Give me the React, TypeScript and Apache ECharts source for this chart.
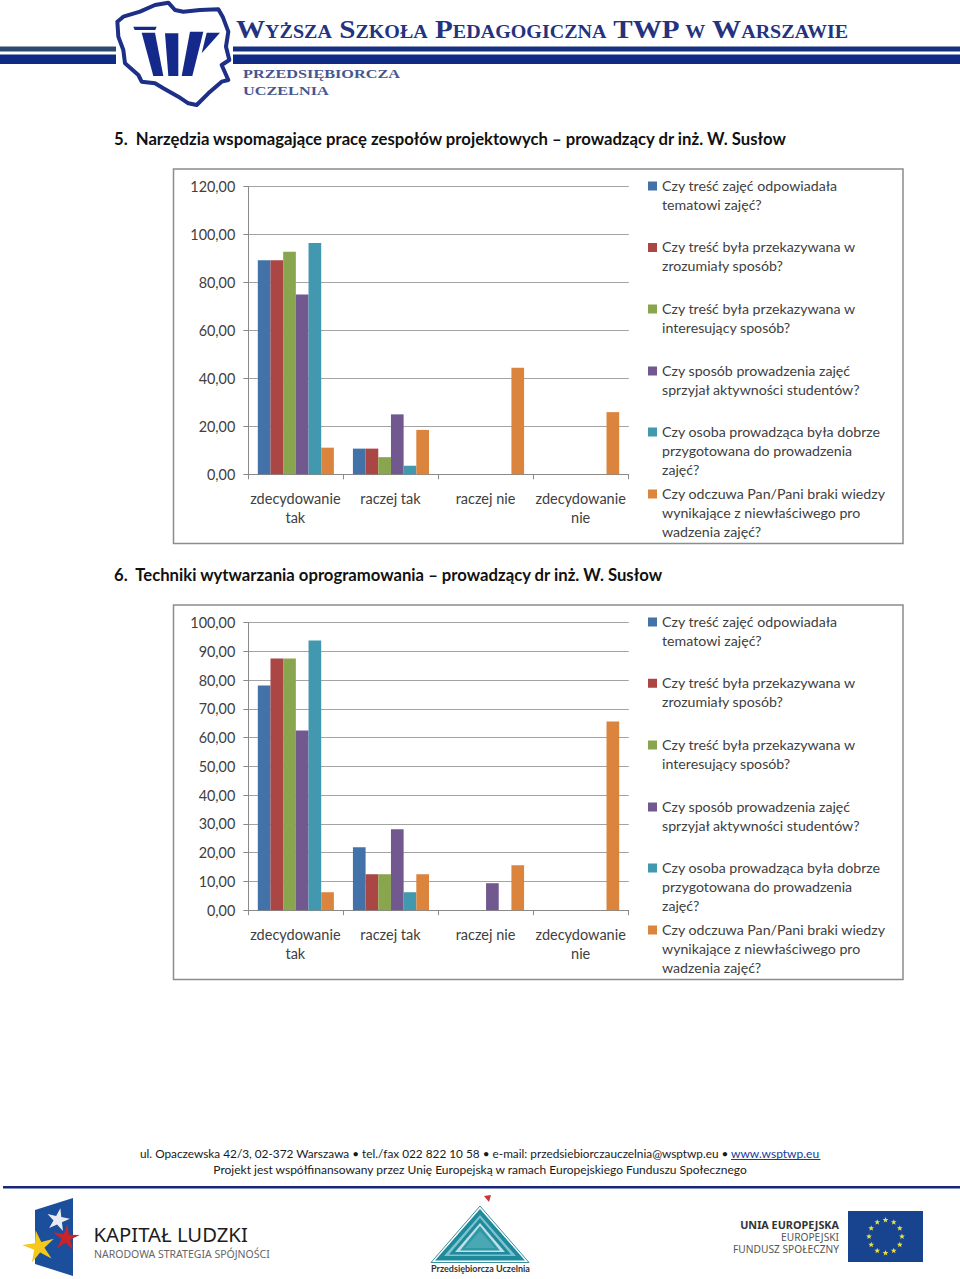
import React, { useEffect, useRef } from "react";
import * as echarts from "echarts";

const categories = ["zdecydowanie\ntak", "raczej tak", "raczej nie", "zdecydowanie\nnie"];
const seriesNames = [
  "Czy treść zajęć odpowiadała\ntematowi zajęć?",
  "Czy treść była przekazywana w\nzrozumiały sposób?",
  "Czy treść była przekazywana w\ninteresujący sposób?",
  "Czy sposób prowadzenia zajęć\nsprzyjał aktywności studentów?",
  "Czy osoba prowadząca była dobrze\nprzygotowana do prowadzenia\nzajęć?",
  "Czy odczuwa Pan/Pani braki wiedzy\nwynikające z niewłaściwego pro\nwadzenia zajęć?",
];
const seriesColors = ["#4272a8", "#aa4643", "#89a54e", "#71588f", "#4198af", "#db843d"];

const chart1S1 = [89.29, 10.71, 0, 0];
const chart1S2 = [89.29, 10.71, 0, 0];
const chart1S3 = [92.86, 7.14, 0, 0];
const chart1S4 = [75, 25, 0, 0];
const chart1S5 = [96.43, 3.57, 0, 0];
const chart1S6 = [11.11, 18.52, 44.44, 25.93];

const chart2S1 = [78.13, 21.88, 0, 0];
const chart2S2 = [87.5, 12.5, 0, 0];
const chart2S3 = [87.5, 12.5, 0, 0];
const chart2S4 = [62.5, 28.13, 9.38, 0];
const chart2S5 = [93.75, 6.25, 0, 0];
const chart2S6 = [6.25, 12.5, 15.63, 65.63];

const chart1Data = [chart1S1, chart1S2, chart1S3, chart1S4, chart1S5, chart1S6];
const chart2Data = [chart2S1, chart2S2, chart2S3, chart2S4, chart2S5, chart2S6];

const title1 = "5.  Narzędzia wspomagające pracę zespołów projektowych – prowadzący dr inż. W. Susłow";
const title2 = "6.  Techniki wytwarzania oprogramowania – prowadzący dr inż. W. Susłow";
const footer1 = "ul. Opaczewska 42/3, 02-372 Warszawa • tel./fax 022 822 10 58 • e-mail: przedsiebiorczauczelnia@wsptwp.eu •";
const footerLink = "www.wsptwp.eu";
const footer2 = "Projekt jest współfinansowany przez Unię Europejską w ramach Europejskiego Funduszu Społecznego";

const UI_FONT = "Lato";
const TEXT = "#404040";
const NAVY = "#0f2a85";

function star(cx: number, cy: number, r: number, inner: number, fill: string, rot = 0) {
  const points: number[][] = [];
  for (let i = 0; i < 10; i++) {
    const a = rot - Math.PI / 2 + (i * Math.PI) / 5;
    const rr = i % 2 === 0 ? r : inner;
    points.push([cx + rr * Math.cos(a), cy + rr * Math.sin(a)]);
  }
  return { type: "polygon", silent: true, shape: { points }, style: { fill } };
}
function rect(x: number, y: number, w: number, h: number, fill: string) {
  return { type: "rect", silent: true, shape: { x, y, width: w, height: h }, style: { fill } };
}
function txt(x: number, y: number, text: string, size: number, fill: string, extra: any = {}, elExtra: any = {}) {
  return {
    type: "text",
    silent: true,
    x,
    y,
    ...elExtra,
    style: {
      text,
      fill,
      fontSize: size,
      fontFamily: UI_FONT,
      textAlign: "left",
      textVerticalAlign: "middle",
      ...extra,
    },
  };
}
// maps a point of the header crop to the page
const hp = (pts: number[][]) => pts.map(([x, y]) => [100 + x / 3, y / 3]);

function decorations(): any[] {
  const out: any[] = [];
  // header
  out.push(rect(0, 46.5, 116, 5, "#2c4a6e"));
  out.push(rect(0, 54.5, 116, 9.5, NAVY));
  out.push(rect(233, 46.5, 727, 5, "#17307f"));
  out.push(rect(233, 54.5, 727, 9.5, NAVY));
  out.push({
    type: "polygon",
    silent: true,
    shape: {
      points: hp([
        [52, 65], [70, 50], [120, 35], [165, 15], [205, 8], [225, 30], [250, 35], [300, 30], [355, 28],
        [368, 50], [385, 95], [378, 140], [388, 180], [365, 195], [385, 240], [365, 245], [325, 280],
        [290, 315], [265, 310], [235, 290], [190, 265], [165, 250], [125, 245], [115, 225], [75, 190],
        [70, 150], [55, 110],
      ]),
    },
    style: { fill: "#ffffff", stroke: "#1d2f86", lineWidth: 4, lineJoin: "round" },
  });
  [
    [[100, 80], [170, 80], [166, 90], [104, 90]],
    [[125, 98], [165, 98], [190, 228], [160, 228]],
    [[195, 100], [235, 100], [235, 228], [205, 228]],
    [[270, 95], [310, 95], [277, 228], [245, 228]],
    [[320, 98], [360, 98], [305, 160]],
  ].forEach((p) => out.push({ type: "polygon", silent: true, shape: { points: hp(p) }, style: { fill: "#15298a" } }));
  out.push({
    type: "text",
    silent: true,
    x: 236,
    y: 29,
    scaleX: 1.12,
    style: {
      text: "Wyższa Szkoła Pedagogiczna TWP w Warszawie",
      fill: "#25337f",
      font: 'small-caps 700 26px "Liberation Serif"',
      textAlign: "left",
      textVerticalAlign: "middle",
    },
  });
  out.push(txt(243, 74, "PRZEDSIĘBIORCZA", 12.5, "#46578f", { fontFamily: "Liberation Serif", fontWeight: 700 }, { scaleX: 1.3 }));
  out.push(txt(243, 91, "UCZELNIA", 12.5, "#46578f", { fontFamily: "Liberation Serif", fontWeight: 700 }, { scaleX: 1.3 }));

  // section titles and frames
  out.push(txt(114, 139, title1, 16.7, "#111111", { fontWeight: 700 }));
  out.push(txt(114, 575, title2, 16.7, "#111111", { fontWeight: 700 }));
  [169, 605].forEach((y) =>
    out.push({
      type: "rect",
      silent: true,
      shape: { x: 173.5, y, width: 729.5, height: 374.5 },
      style: { fill: "none", stroke: "#8c8c8c", lineWidth: 1.5 },
    })
  );

  // footer
  out.push(txt(140, 1153, footer1, 11.8, "#1a1a1a"));
  out.push(txt(731, 1153, footerLink, 12, "#1a3a9a"));
  out.push(rect(731, 1159, 89.5, 1, "#1a3a9a"));
  out.push(txt(480, 1169, footer2, 12, "#1a1a1a", { textAlign: "center" }));
  out.push(rect(3, 1186, 957, 2.5, "#17277a"));

  // Kapitał Ludzki
  out.push({ type: "polygon", silent: true, shape: { points: [[35, 1210], [73, 1198], [73, 1276], [35, 1264]] }, style: { fill: "#1b4f9c" } });
  out.push(star(58, 1220, 12, 4.5, "#e8ecf2", 0.2));
  out.push(star(66, 1238, 14, 4.5, "#c8242c", 0.1));
  out.push(star(39, 1247, 17, 5.5, "#f4c81c", -0.2));
  out.push(txt(93.5, 1233.5, "KAPITAŁ LUDZKI", 20.3, "#1d1d1b", { fontFamily: "Noto Sans" }));
  out.push(txt(94, 1254, "NARODOWA STRATEGIA SPÓJNOŚCI", 10.5, "#666666", { fontFamily: "Noto Sans" }));

  // Przedsiębiorcza Uczelnia
  out.push({ type: "polygon", silent: true, shape: { points: [[484, 1196], [491, 1195], [489, 1202]] }, style: { fill: "#cc3333" } });
  [
    { a: 1206, l: 431, r: 529, b: 1262.5, fill: "#ffffff", stroke: "#3a8f9c" },
    { a: 1209, l: 435, r: 525, b: 1260.5, fill: "#1e8a9c" },
    { a: 1215, l: 444, r: 516, b: 1256, fill: "#7fc3cc" },
    { a: 1218, l: 449, r: 511, b: 1254.5, fill: "#1e8a9c" },
    { a: 1223, l: 455, r: 505, b: 1252, fill: "#bfe0e4" },
    { a: 1226, l: 460, r: 500, b: 1250.5, fill: "#2f97a6" },
    { a: 1231, l: 465, r: 495, b: 1248, fill: "#4aa7b4" },
  ].forEach((t) =>
    out.push({
      type: "polygon",
      silent: true,
      shape: { points: [[(t.l + t.r) / 2, t.a], [t.l, t.b], [t.r, t.b]] },
      style: { fill: t.fill, stroke: t.stroke, lineWidth: t.stroke ? 1 : 0 },
    })
  );
  out.push(txt(480.5, 1268, "Przedsiębiorcza Uczelnia", 9, "#333333", { textAlign: "center", fontWeight: 700 }));

  // EU
  out.push(txt(839, 1224, "UNIA EUROPEJSKA", 10.8, "#333333", { textAlign: "right", fontFamily: "Noto Sans", fontWeight: 700 }));
  out.push(txt(839, 1236.5, "EUROPEJSKI", 10.2, "#555555", { textAlign: "right", fontFamily: "Noto Sans" }));
  out.push(txt(839, 1249, "FUNDUSZ SPOŁECZNY", 10.2, "#555555", { textAlign: "right", fontFamily: "Noto Sans" }));
  out.push(rect(848, 1211, 75, 51, "#17438f"));
  for (let i = 0; i < 12; i++) {
    const a = (i * Math.PI) / 6;
    out.push(star(885.5 + 16.5 * Math.sin(a), 1236.5 - 16.5 * Math.cos(a), 3, 1.3, "#e6e04a"));
  }
  return out;
}

const fmt = (v: number) => v.toFixed(2).replace(".", ",");

function buildChart(idx: number, top: number, max: number, interval: number, data: number[][]) {
  const grid = { left: 248.3, top, width: 380.4, height: 287.7, containLabel: false };
  const axisColor = "#8a8a8a";
  const xAxis = {
    type: "category",
    gridIndex: idx,
    data: categories,
    axisLine: { lineStyle: { color: axisColor, width: 1 } },
    axisTick: { show: true, length: 5, lineStyle: { color: axisColor }, alignWithLabel: false },
    axisLabel: { interval: 0, margin: 15, fontFamily: UI_FONT, fontSize: 14.5, color: TEXT, lineHeight: 19, padding: [0, 1, 0, 0] },
  };
  const yAxis = {
    type: "value",
    gridIndex: idx,
    min: 0,
    max,
    interval,
    axisLine: { show: true, lineStyle: { color: axisColor, width: 1 } },
    axisTick: { show: true, length: 5, lineStyle: { color: axisColor } },
    axisLabel: { margin: 13, fontFamily: UI_FONT, fontSize: 14.4, color: TEXT, formatter: fmt, padding: [0, 0, 2, 0] },
    splitLine: { show: true, lineStyle: { color: "#a3a3a3", width: 1 } },
  };
  const series = seriesNames.map((name, i) => ({
    type: "bar",
    name,
    xAxisIndex: idx,
    yAxisIndex: idx,
    data: data[i],
    barCategoryGap: "20%",
    barGap: "0%",
    itemStyle: { color: seriesColors[i] },
    silent: true,
  }));
  const offsets = [0, 61.3, 123, 185, 246, 308];
  const legend = seriesNames.map((name, i) => {
    const lines = name.split("\n").length;
    const h = lines * 19;
    return {
      left: 648,
      top: top - 11 + offsets[i],
      padding: 0,
      orient: "vertical",
      selectedMode: false,
      data: [{ name, icon: `path://M0,6H9V15H0Z M0,0L0.01,0Z M0,${h}L0.01,${h}Z` }],
      itemWidth: 9,
      itemHeight: h,
      textStyle: { fontFamily: UI_FONT, fontSize: 14.2, lineHeight: 19, color: TEXT, padding: [0, 0, 0, 0] },
    };
  });
  return { grid, xAxis, yAxis, series, legend };
}

export default function App() {
  const ref = useRef<HTMLDivElement>(null);
  useEffect(() => {
    const chart = echarts.init(ref.current!, undefined, { renderer: "svg" });
    const a = buildChart(0, 186.6, 120, 20, chart1Data);
    const b = buildChart(1, 622.5, 100, 10, chart2Data);
    chart.setOption({
      animation: false,
      backgroundColor: "#ffffff",
      tooltip: { show: false },
      grid: [a.grid, b.grid],
      xAxis: [a.xAxis, b.xAxis],
      yAxis: [a.yAxis, b.yAxis],
      series: [...a.series, ...b.series],
      legend: [...a.legend, ...b.legend],
      graphic: { elements: decorations() },
    });
    return () => chart.dispose();
  }, []);
  return <div ref={ref} style={{ position: "absolute", left: 0, top: 0, width: 960, height: 1279 }} />;
}
